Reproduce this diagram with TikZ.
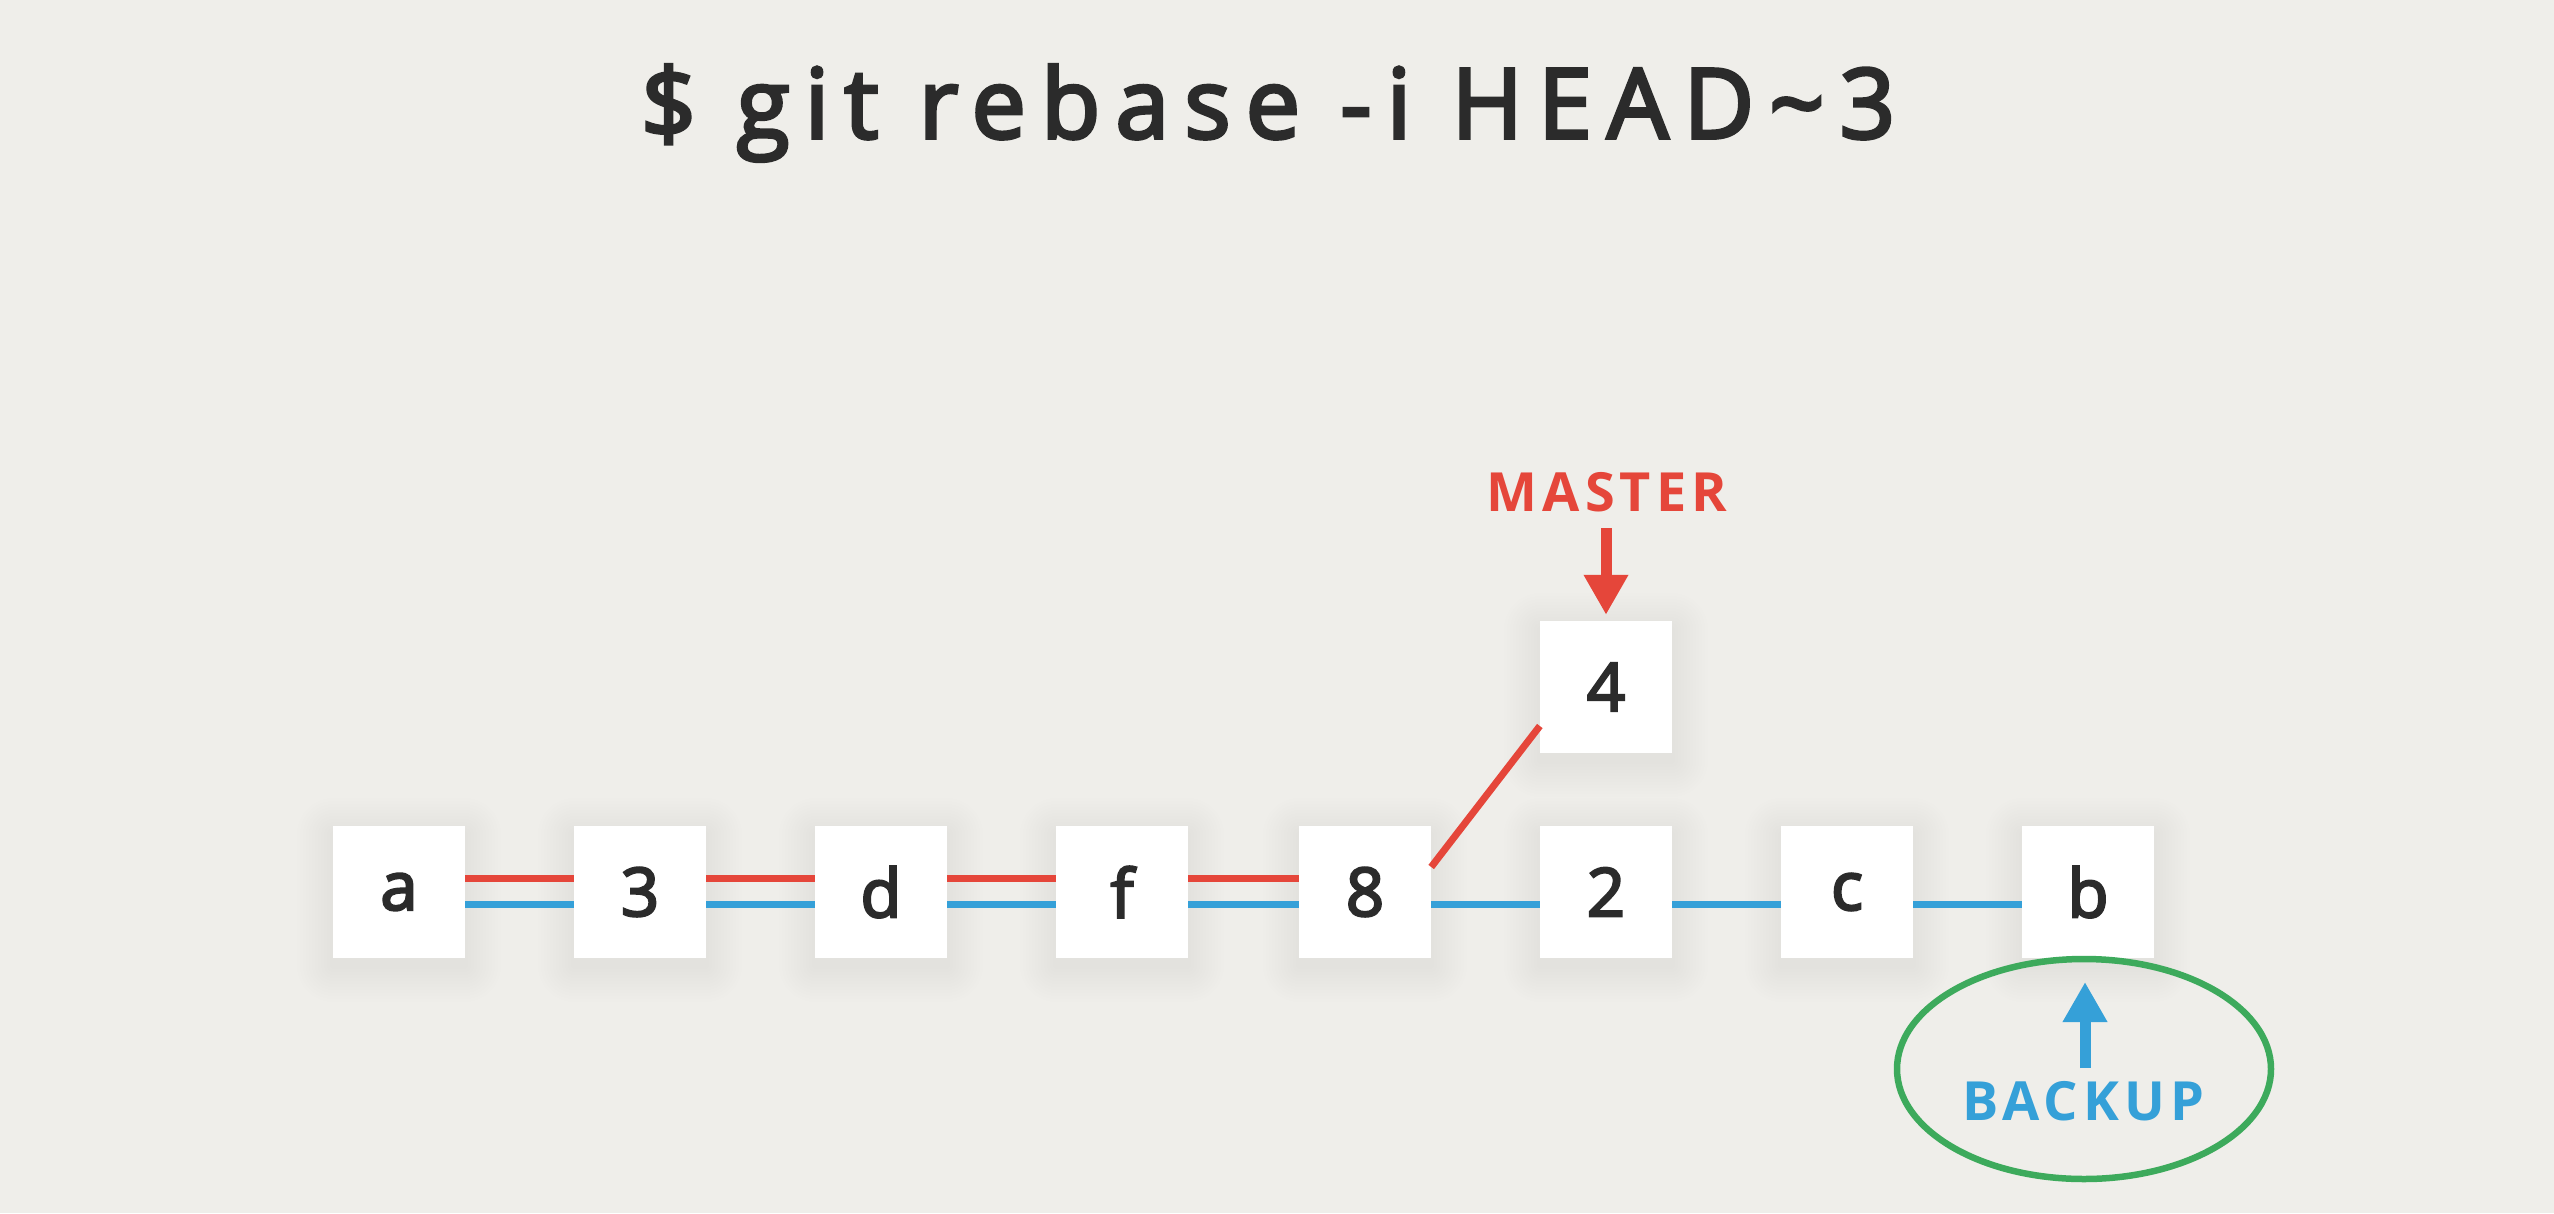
\documentclass[tikz,border=0pt]{standalone}
\usepackage{fontspec}
\setmainfont{Open Sans}
\newfontfamily\mediumfont{Open Sans}[FakeBold=3.5]
\usetikzlibrary{arrows.meta,shapes.geometric}

\definecolor{bg}{HTML}{EFEEEA}
\definecolor{ink}{HTML}{2B2B2B}
\definecolor{masterred}{HTML}{E5463A}
\definecolor{backupblue}{HTML}{35A0D8}
\definecolor{ringgreen}{HTML}{3DAA5C}

\tikzset{
  commit/.style={fill=white, minimum width=132pt, minimum height=132pt,
    inner sep=0pt, text=ink,
    font=\mediumfont\fontsize{67}{72}\selectfont},
  haze/.style={fill=black, fill opacity=0.0045, rounded corners=#1},
  redline/.style={draw=masterred, line width=7pt},
  blueline/.style={draw=backupblue, line width=7pt},
  label/.style={font=\fontsize{54}{60}\selectfont\bfseries\addfontfeature{LetterSpace=9.5}},
  pointer/.style={line width=11pt, -{Triangle[width=42pt,length=40pt]}}
}

% a commit box with a soft shadow under it
\newcommand\commitbox[3]{%
  \foreach \k in {1,...,12}
    \fill[haze=\k*3pt] (#2) ++(-66-\k*3,-66-\k*3+8) rectangle ++(132+\k*6,132+\k*6);
  \node[commit] (#1) at (#2) {#3};
}

\begin{document}
\begin{tikzpicture}[x=1pt,y=-1pt]
  % canvas
  \fill[bg] (0,0) rectangle (2554,1213);
  \useasboundingbox (0,0) rectangle (2554,1213);

  % command line
  \node[text=ink, font=\mediumfont\fontsize{97}{110}\selectfont\addfontfeature{LetterSpace=15.5}] (cmd) at (1268,113)
    {\$ git rebase -i HEAD\textasciitilde 3};

  % commits along the main line
  \commitbox{ca}{399,892}{a}
  \commitbox{c3}{640,892}{3}
  \commitbox{cd}{881,892}{d}
  \commitbox{cf}{1122,892}{f}
  \commitbox{c8}{1365,892}{8}
  \commitbox{c2}{1606,892}{2}
  \commitbox{cc}{1847,892}{c}
  \commitbox{cb}{2088,892}{b}
  % rewritten commit
  \commitbox{c4}{1606,687}{4}

  % master history (red)
  \foreach \u/\v in {ca/c3, c3/cd, cd/cf, cf/c8}
    \draw[redline] ([yshift=14pt]\u.east) -- ([yshift=14pt]\v.west);
  \draw[redline] ([yshift=25pt]c8.east) -- ([yshift=-39pt]c4.west);

  % backup history (blue)
  \foreach \u/\v in {ca/c3, c3/cd, cd/cf, cf/c8, c8/c2, c2/cc, cc/cb}
    \draw[blueline] ([yshift=-12pt]\u.east) -- ([yshift=-12pt]\v.west);

  % MASTER pointer
  \node[label, text=masterred] (master) at (1607,492) {MASTER};
  \coordinate (mtail) at (1606,528);
  \draw[pointer, masterred] (mtail) -- ([yshift=6pt]c4.north);

  % BACKUP pointer and ring
  \node[label, text=backupblue] (backup) at (2083,1101) {BACKUP};
  \coordinate (btail) at (2085,1068);
  \coordinate (bhead) at (2085,982);
  \draw[pointer, backupblue] (btail) -- (bhead);
  \node[ellipse, draw=ringgreen, line width=6.5pt, minimum width=374pt,
        minimum height=220pt] (ring) at (2084,1069) {};
\end{tikzpicture}
\end{document}
